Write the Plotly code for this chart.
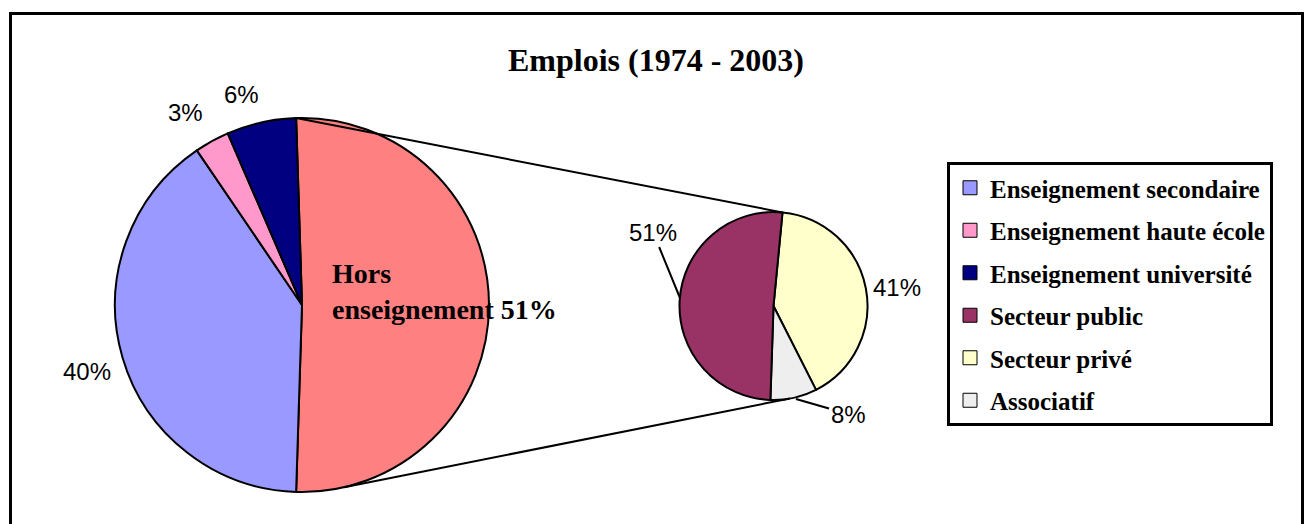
import math
import plotly.graph_objects as go

W, H = 1306, 524

title_text = "Emplois (1974 - 2003)"

# Main pie (clockwise from top, "Hors enseignement" is split out to the secondary pie)
main_labels = ["Hors enseignement", "Enseignement secondaire",
               "Enseignement haute école", "Enseignement université"]
main_values = [51, 40, 3, 6]
main_colors = ["#FF8080", "#9999FF", "#FF99CC", "#000080"]

# Secondary pie (breakdown of "Hors enseignement")
sub_labels = ["Secteur public", "Secteur privé", "Associatif"]
sub_values = [51, 41, 8]
sub_colors = ["#993366", "#FFFFCC", "#EEEEEE"]

legend_labels = main_labels[1:] + sub_labels
legend_colors = main_colors[1:] + sub_colors


def px(x):
    return x / W


def py(y):
    return 1 - y / H


# geometry (pixels)
BIG_C, BIG_R = (302, 305), 187
SUB_C, SUB_R = (773.5, 306), 94

big_rot = 90 - main_values[0] / sum(main_values) * 180
sub_order = [1, 2, 0]
sub_rot = 5.5


def pt(c, r, ang):
    a = math.radians(ang)
    return c[0] + r * math.sin(a), c[1] - r * math.cos(a)


fig = go.Figure()

fig.add_trace(go.Pie(
    labels=main_labels, values=main_values, sort=False, direction="clockwise",
    rotation=big_rot, textinfo="none", hoverinfo="label+percent",
    marker=dict(colors=main_colors, line=dict(color="black", width=2)),
    domain=dict(x=[px(BIG_C[0] - BIG_R), px(BIG_C[0] + BIG_R)],
                y=[py(BIG_C[1] + BIG_R), py(BIG_C[1] - BIG_R)]),
    showlegend=False,
))

fig.add_trace(go.Pie(
    labels=[sub_labels[i] for i in sub_order],
    values=[sub_values[i] for i in sub_order],
    sort=False, direction="clockwise", rotation=sub_rot,
    textinfo="none", hoverinfo="label+percent",
    marker=dict(colors=[sub_colors[i] for i in sub_order],
                line=dict(color="black", width=2)),
    domain=dict(x=[px(SUB_C[0] - SUB_R), px(SUB_C[0] + SUB_R)],
                y=[py(SUB_C[1] + SUB_R), py(SUB_C[1] - SUB_R)]),
    showlegend=False,
))

# legend entries
for lab, col in zip(legend_labels, legend_colors):
    fig.add_trace(go.Scatter(
        x=[None], y=[None], mode="markers", name=lab, legendgroup=lab,
        marker=dict(symbol="square", size=14, color=col,
                    line=dict(color="black", width=1)),
        showlegend=True, hoverinfo="skip",
    ))

shapes = []
# outer frame
shapes.append(dict(type="rect", xref="paper", yref="paper",
                   x0=px(10.5), x1=px(1302.5), y0=-0.1, y1=py(13.5),
                   line=dict(color="black", width=3)))
# connector lines
t0 = pt(BIG_C, BIG_R, big_rot)
t1 = pt(SUB_C, SUB_R, sub_rot)
b0 = pt(BIG_C, BIG_R, 167)
b1 = pt(SUB_C, SUB_R, 170)
for a, b in [(t0, t1), (b0, b1)]:
    shapes.append(dict(type="line", xref="paper", yref="paper",
                       x0=px(a[0]), y0=py(a[1]), x1=px(b[0]), y1=py(b[1]),
                       line=dict(color="black", width=2)))

pct_font = dict(family="Liberation Sans", size=24, color="black")
annotations = []


def pct(v, tot):
    return f"{round(100 * v / tot)}%"


def label(x, y, text, **kw):
    d = dict(x=px(x), y=py(y), xref="paper", yref="paper", text=text,
             showarrow=False, font=pct_font, xanchor="center", yanchor="middle")
    d.update(kw)
    annotations.append(d)


mt = sum(main_values)
st = sum(sub_values)
# main pie labels
label(87, 371, pct(main_values[1], mt))
label(185, 112, pct(main_values[2], mt))
label(241, 94, pct(main_values[3], mt))
label(330, 256, main_labels[0].replace(" ", "<br>") + " " + pct(main_values[0], mt),
      xanchor="left", yanchor="top", align="left",
      font=dict(family="Liberation Serif", size=28, color="black", weight="bold"))
# secondary pie labels
label(680, 298, pct(sub_values[0], st), showarrow=True, arrowhead=0,
      ax=653 - 680, ay=232 - 298, arrowwidth=2, arrowcolor="black")
label(897, 287, pct(sub_values[1], st))
label(796, 399, pct(sub_values[2], st), showarrow=True, arrowhead=0,
      ax=848 - 796, ay=414 - 399, arrowwidth=2, arrowcolor="black")

fig.update_layout(
    width=W, height=H,
    margin=dict(l=0, r=0, t=0, b=0),
    paper_bgcolor="white", plot_bgcolor="white",
    title=dict(text="<b>" + title_text + "</b>", x=px(656), y=py(60),
               xanchor="center", yanchor="middle", xref="paper", yref="container",
               font=dict(family="Liberation Serif", size=32, color="black")),
    xaxis=dict(visible=False), yaxis=dict(visible=False),
    legend=dict(x=px(947), y=py(162), xanchor="left", yanchor="top",
                bordercolor="black", borderwidth=3, bgcolor="white",
                font=dict(family="Liberation Serif", size=25, color="black",
                          weight="bold"),
                tracegroupgap=7),
    shapes=shapes,
    annotations=annotations,
)

fig.write_html("out.html", config={"displayModeBar": False},
               post_script="document.body.style.margin='0';")
